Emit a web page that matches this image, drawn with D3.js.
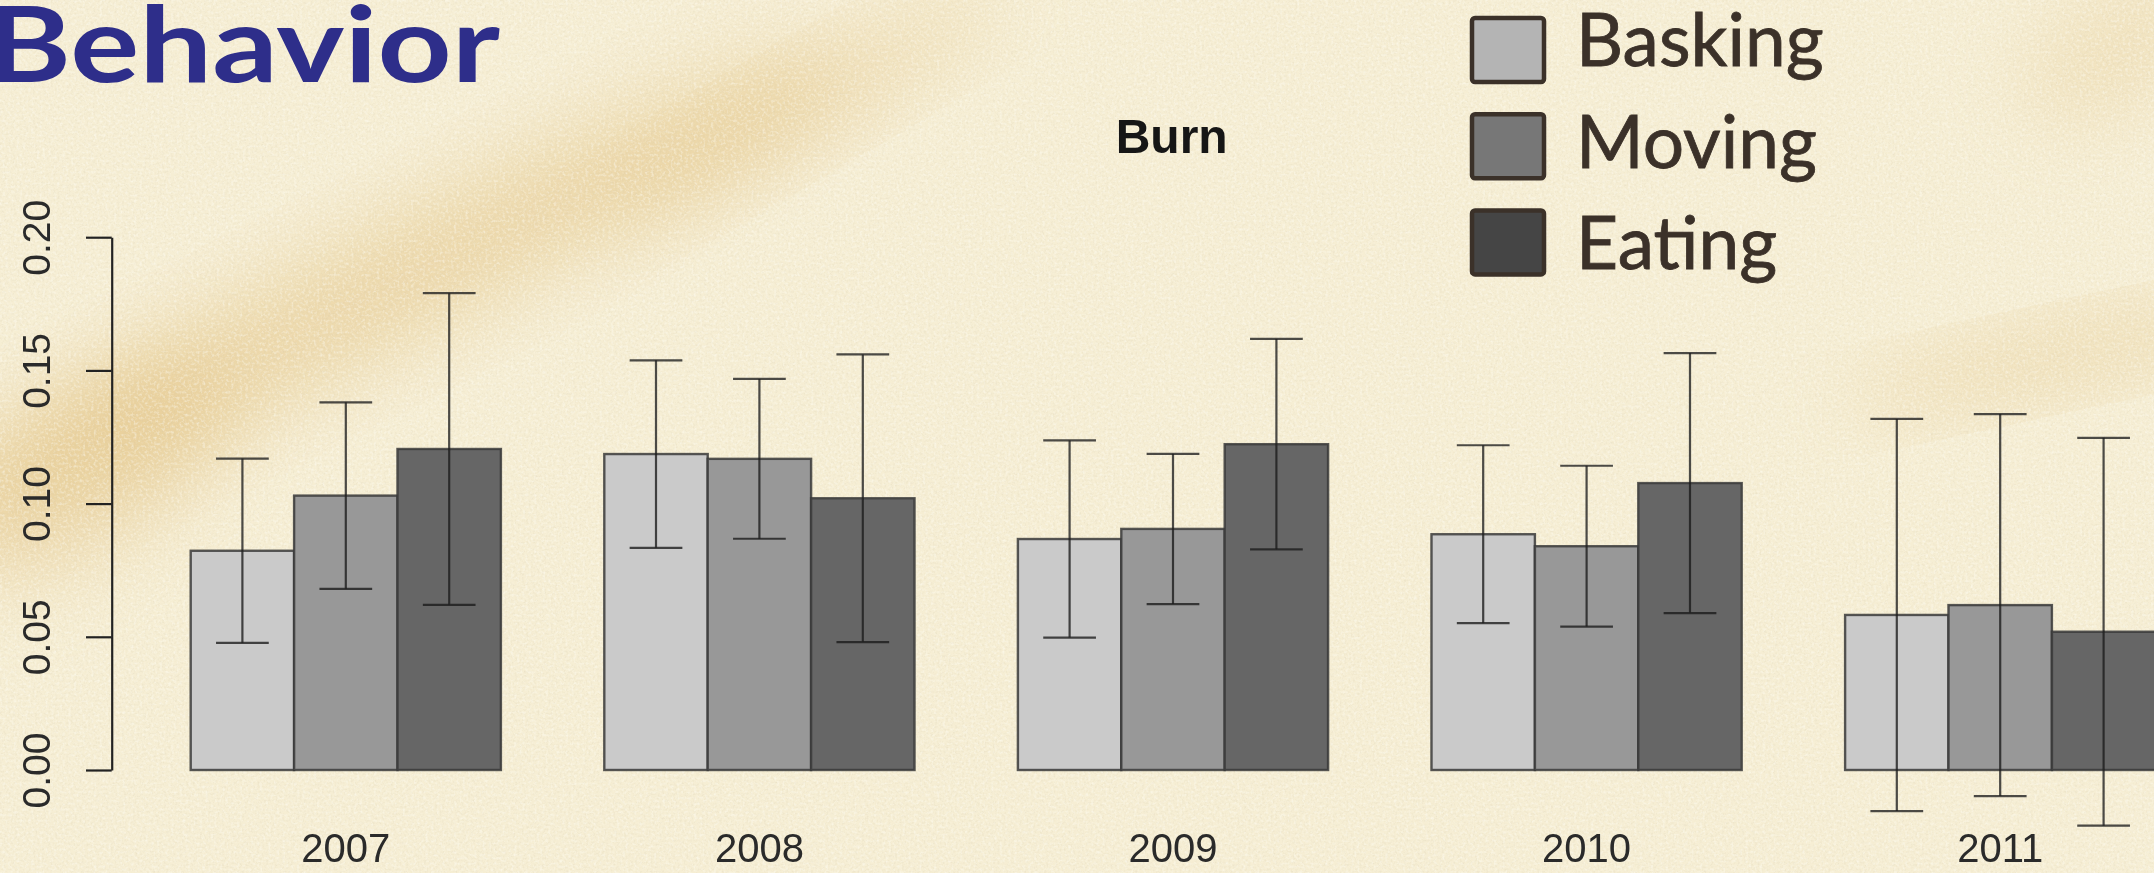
<!DOCTYPE html>
<html>
<head>
<meta charset="utf-8">
<script src="https://cdn.jsdelivr.net/npm/d3@7"></script>
<style>
  html, body { margin: 0; padding: 0; background: #f6efd6; }
  svg { display: block; }
</style>
</head>
<body>
<svg id="chart" width="2154" height="873"></svg>
<script>
// Behaviour proportions per year in the burn plots, with error half-widths
const years = ["2007", "2008", "2009", "2010", "2011"];
const behaviors = ["Basking", "Moving", "Eating"];
const basking = [0.0823, 0.1186, 0.0867, 0.0885, 0.0582];
const moving  = [0.1030, 0.1168, 0.0905, 0.0840, 0.0619];
const eating  = [0.1205, 0.1020, 0.1223, 0.1077, 0.0519];
const baskingErr = [0.0346, 0.0352, 0.0370, 0.0334, 0.0736];
const movingErr  = [0.0350, 0.0300, 0.0282, 0.0302, 0.0717];
const eatingErr  = [0.0585, 0.0540, 0.0395, 0.0488, 0.0728];
const yTicks = [0, 0.05, 0.10, 0.15, 0.20];
const chartTitle = "Burn";
const slideTitle = "Behavior";

const barFill = ["#cacaca", "#989898", "#666666"];
const legendFill = ["#b4b4b4", "#777777", "#454545"];

const series = [basking, moving, eating];
const errors = [baskingErr, movingErr, eatingErr];

const svg = d3.select("#chart");
const W = 2154, H = 873;

// ---------- parchment background ----------
const defs = svg.append("defs");
// darker tan flecks
const grainDark = defs.append("filter").attr("id", "grainDark")
  .attr("x", 0).attr("y", 0).attr("width", "100%").attr("height", "100%");
grainDark.append("feTurbulence").attr("type", "fractalNoise")
  .attr("baseFrequency", 0.45).attr("numOctaves", 3).attr("seed", 7);
grainDark.append("feColorMatrix").attr("type", "matrix")
  .attr("values", "0 0 0 0 0.62  0 0 0 0 0.55  0 0 0 0 0.38  0 0 0 -2.2 1.2");
// pale highlights
const grainLight = defs.append("filter").attr("id", "grainLight")
  .attr("x", 0).attr("y", 0).attr("width", "100%").attr("height", "100%");
grainLight.append("feTurbulence").attr("type", "fractalNoise")
  .attr("baseFrequency", 0.35).attr("numOctaves", 2).attr("seed", 23);
grainLight.append("feColorMatrix").attr("type", "matrix")
  .attr("values", "0 0 0 0 1  0 0 0 0 1  0 0 0 0 0.95  2.4 0 0 0 -1.1");
const soft = defs.append("filter").attr("id", "soft")
  .attr("x", "-50%").attr("y", "-50%").attr("width", "200%").attr("height", "200%");
soft.append("feGaussianBlur").attr("stdDeviation", 40);
const crisp = defs.append("filter").attr("id", "crisp");
crisp.append("feGaussianBlur").attr("stdDeviation", 0.7);

const bg = svg.append("g");
bg.append("rect").attr("width", W).attr("height", H).attr("fill", "#f6eed4");
const streaks = [
  { cx: 380, cy: 290, rx: 520, ry: 60, a: -27, o: 0.45 },
  { cx: 90, cy: 470, rx: 170, ry: 80, a: -35, o: 0.35 },
  { cx: 800, cy: 110, rx: 230, ry: 35, a: -30, o: 0.35 },
  { cx: 2070, cy: 355, rx: 230, ry: 28, a: -12, o: 0.40 },
  { cx: 2120, cy: 50, rx: 110, ry: 55, a: -30, o: 0.25 }
];
bg.selectAll("ellipse").data(streaks).join("ellipse")
  .attr("cx", d => d.cx).attr("cy", d => d.cy)
  .attr("rx", d => d.rx).attr("ry", d => d.ry)
  .attr("transform", d => `rotate(${d.a},${d.cx},${d.cy})`)
  .attr("fill", "#e0bb74").attr("opacity", d => d.o)
  .attr("filter", "url(#soft)");
bg.append("rect").attr("width", W).attr("height", H)
  .attr("filter", "url(#grainDark)").attr("opacity", 0.22);
bg.append("rect").attr("width", W).attr("height", H)
  .attr("filter", "url(#grainLight)").attr("opacity", 0.45);

// ---------- scales ----------
// bar slots: each year holds 3 bars after a one-bar gap
const x = d3.scaleLinear().domain([0, 20]).range([87.3, 2155.3]);
const y = d3.scaleLinear().domain([0, 0.2]).range([770, 237.2]);

const plot = svg.append("g").attr("filter", "url(#crisp)");

// ---------- bars ----------
const bars = [];
years.forEach((yr, g) => {
  behaviors.forEach((b, s) => {
    const slot = 4 * g + 1 + s;
    bars.push({ g, s, slot, v: series[s][g], e: errors[s][g] });
  });
});

plot.append("g").selectAll("rect").data(bars).join("rect")
  .attr("x", d => x(d.slot))
  .attr("y", d => y(d.v))
  .attr("width", d => x(d.slot + 1) - x(d.slot))
  .attr("height", d => y(0) - y(d.v))
  .attr("fill", d => barFill[d.s])
  .attr("stroke", "#3a3a3a")
  .attr("stroke-opacity", 0.85)
  .attr("stroke-width", 2.4);

// ---------- error bars ----------
const capHalf = (x(1) - x(0)) * 0.255;
const eb = plot.append("g").attr("stroke", "#1e1e1e").attr("stroke-opacity", 0.8)
  .attr("stroke-width", 2.2).attr("fill", "none");
const ebg = eb.selectAll("g").data(bars).join("g");
ebg.append("line")
  .attr("x1", d => x(d.slot + 0.5)).attr("x2", d => x(d.slot + 0.5))
  .attr("y1", d => y(d.v + d.e)).attr("y2", d => y(d.v - d.e));
ebg.append("line")
  .attr("x1", d => x(d.slot + 0.5) - capHalf).attr("x2", d => x(d.slot + 0.5) + capHalf)
  .attr("y1", d => y(d.v + d.e)).attr("y2", d => y(d.v + d.e));
ebg.append("line")
  .attr("x1", d => x(d.slot + 0.5) - capHalf).attr("x2", d => x(d.slot + 0.5) + capHalf)
  .attr("y1", d => y(d.v - d.e)).attr("y2", d => y(d.v - d.e));

// ---------- y axis ----------
const yAxis = plot.append("g")
  .attr("transform", "translate(111.7,0)")
  .call(d3.axisLeft(y).tickValues(yTicks).tickFormat(d3.format(".2f"))
    .tickSize(25.7).tickSizeOuter(0));
yAxis.select(".domain").attr("stroke", "#222").attr("stroke-width", 2.2);
yAxis.selectAll(".tick line").attr("stroke", "#222").attr("stroke-width", 2.2);
yAxis.selectAll(".tick text")
  .attr("x", 0).attr("y", 0).attr("dy", "0.35em")
  .attr("transform", "translate(-75.7,0) rotate(-90)")
  .attr("text-anchor", "middle")
  .attr("fill", "#2a2a2a")
  .style("font-family", "'Liberation Sans', Arial, sans-serif")
  .style("font-size", "39px");

// ---------- year labels ----------
plot.append("g").selectAll("text").data(years).join("text")
  .attr("x", (d, g) => x(4 * g + 2.5))
  .attr("y", 862)
  .attr("text-anchor", "middle")
  .attr("fill", "#2a2a2a")
  .style("font-family", "'Liberation Sans', Arial, sans-serif")
  .style("font-size", "40px")
  .text(d => d);

// ---------- plot title ----------
plot.append("text")
  .attr("x", 1171.7).attr("y", 152.7)
  .attr("text-anchor", "middle")
  .attr("fill", "#151515")
  .style("font-family", "'Liberation Sans', Arial, sans-serif")
  .style("font-weight", "bold")
  .style("font-size", "48px")
  .text(chartTitle);

// ---------- slide heading ----------
svg.append("text")
  .attr("x", -14).attr("y", 81.7)
  .attr("fill", "#2e2e8a")
  .attr("textLength", 514).attr("lengthAdjust", "spacingAndGlyphs")
  .style("font-family", "Lato, 'Open Sans', sans-serif")
  .style("font-weight", "bold")
  .style("font-size", "106px")
  .text(slideTitle);

// ---------- legend ----------
const legend = svg.append("g");
const li = legend.selectAll("g").data(behaviors).join("g");
li.append("rect")
  .attr("x", 1472).attr("y", (d, i) => 18 + i * 96.2)
  .attr("width", 72).attr("height", 64)
  .attr("rx", 3)
  .attr("fill", (d, i) => legendFill[i])
  .attr("stroke", "#3b3129").attr("stroke-width", 4.5);
li.append("text")
  .attr("x", 1576).attr("y", (d, i) => 66 + i * 101.7)
  .attr("fill", "#3b3129")
  .attr("stroke", "#3b3129").attr("stroke-width", 0.8)
  .style("font-family", "Lato, 'Open Sans', sans-serif")
  .style("font-size", "73px")
  .text(d => d);
</script>
</body>
</html>
